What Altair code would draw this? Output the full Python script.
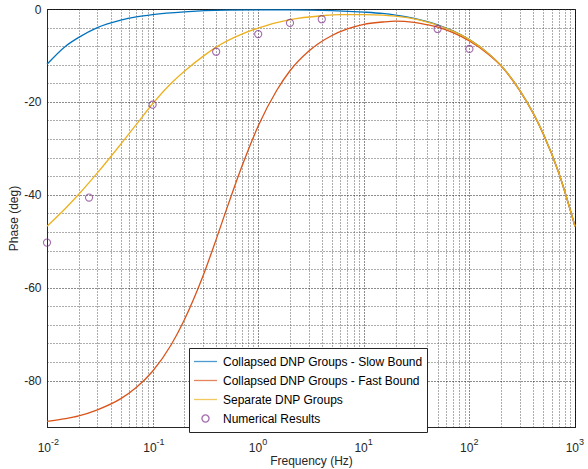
import altair as alt
import pandas as pd

# ---------------- data ----------------
series_names = [
    "Collapsed DNP Groups - Slow Bound",
    "Collapsed DNP Groups - Fast Bound",
    "Separate DNP Groups",
    "Numerical Results",
]
series_colors = ["#0072BD", "#D95319", "#EDB120", "#7E2F8E"]

freq_slow = [0.01, 0.015, 0.02, 0.03, 0.05, 0.07, 0.1, 0.2, 0.5, 1, 2, 5, 10, 15, 20, 30,
             40, 50, 70, 100, 150, 200, 300, 400, 500, 700, 1000]
phase_slow = [-11.9, -8.0, -6.1, -4.0, -2.4, -1.7, -1.2, -0.6, -0.25, -0.2, -0.18, -0.33,
              -0.66, -0.96, -1.3, -2.0, -2.7, -3.4, -4.7, -6.6, -9.5, -12.2, -17.5, -22.3,
              -26.8, -35.2, -46.8]

freq_fast = [0.01, 0.015, 0.02, 0.03, 0.05, 0.07, 0.1, 0.15, 0.2, 0.3, 0.4, 0.5, 0.7, 1,
             1.5, 2, 3, 5, 7, 10, 15, 20, 30, 40, 50, 70, 100, 150, 200, 300, 400, 500,
             700, 1000]
phase_fast = [-88.8, -88.2, -87.6, -86.3, -83.9, -81.5, -78.0, -72.3, -66.9, -57.5, -49.6,
              -43.2, -33.9, -25.2, -17.5, -13.3, -9.1, -5.7, -4.3, -3.3, -2.8, -2.6, -2.9,
              -3.4, -3.9, -5.1, -6.9, -9.7, -12.3, -17.6, -22.4, -26.9, -35.2, -46.8]

freq_sep = [0.01, 0.015, 0.02, 0.03, 0.05, 0.07, 0.1, 0.15, 0.2, 0.3, 0.4, 0.7, 1, 2, 4, 6,
            10, 15, 20, 30, 40, 50, 70, 100, 150, 200, 300, 400, 500, 700, 1000]
phase_sep = [-46.8, -42.9, -39.9, -35.3, -29.1, -24.9, -20.4, -16.0, -13.4, -10.2, -8.2,
             -5.4, -4.1, -2.3, -1.45, -1.2, -1.2, -1.3, -1.55, -2.15, -2.85, -3.5, -4.75,
             -6.6, -9.5, -12.2, -17.5, -22.3, -26.8, -35.2, -46.8]

freq_num = [0.01, 0.025, 0.1, 0.4, 1, 2, 4, 50, 100]
phase_num = [-50.3, -40.6, -20.6, -9.2, -5.4, -3.0, -2.2, -4.3, -8.6]

decades = [0.01, 0.1, 1, 10, 100, 1000]
decade_exponents = ["-2", "-1", "0", "1", "2", "3"]
minor_multipliers = [1, 2, 3, 4, 5, 6, 7, 8, 9]
y_ticks = list(range(-80, 1, 4))
y_labelled = [0, -20, -40, -60, -80]

# ---------------- tables ----------------
lines_df = pd.concat([
    pd.DataFrame({"f": freq_slow, "phase": phase_slow, "series": series_names[0]}),
    pd.DataFrame({"f": freq_fast, "phase": phase_fast, "series": series_names[1]}),
    pd.DataFrame({"f": freq_sep, "phase": phase_sep, "series": series_names[2]}),
], ignore_index=True)
points_df = pd.DataFrame({"f": freq_num, "phase": phase_num, "series": series_names[3]})
dec_df = pd.DataFrame({"f": decades, "base": ["10"] * len(decades), "exp": decade_exponents})

x_grid = [round(d * m, 6) for d in decades[:-1] for m in minor_multipliers] + [1000]

FONT = "Liberation Sans"
AXC = "#262626"
x_scale = alt.Scale(type="log", domain=[0.01, 1000], nice=False)
y_scale = alt.Scale(domain=[-90, 0], nice=False, zero=False)
color_scale = alt.Scale(domain=series_names, range=series_colors)
line_path = "M-1,0H1"
circle_path = "M0.31,0A0.31,0.31 0 1,1 -0.31,0A0.31,0.31 0 1,1 0.31,0Z"
shape_scale = alt.Scale(domain=series_names,
                        range=[line_path, line_path, line_path, circle_path])

major_x = "abs(log(datum.value)/LN10 - round(log(datum.value)/LN10)) < 0.001"
x_axis = alt.Axis(
    values=x_grid, labels=False, ticks=False, grid=True,
    gridColor={"condition": {"test": major_x, "value": "#000000"}, "value": "#4a4a4a"},
    gridDash=[1, 2], gridOpacity=0.9, gridWidth=1,
    domainColor=AXC, title="Frequency (Hz)", titleFont=FONT, titleFontSize=12,
    titleFontWeight="normal", titleColor=AXC, titlePadding=28,
)
labelled_str = "[" + ",".join(str(v) for v in y_labelled) + "]"
y_axis = alt.Axis(
    values=y_ticks,
    labelExpr=f"indexof({labelled_str}, datum.value) >= 0 ? '' + datum.value : ''",
    labelOverlap=False, labelBound=False, labelFlush=False,
    ticks=False, grid=True,
    gridColor={"condition": {"test": "datum.value % 20 == 0", "value": "#000000"}, "value": "#4a4a4a"},
    gridDash=[1, 2], gridOpacity=0.9, gridWidth=1,
    domainColor=AXC, labelFont=FONT, labelFontSize=12, labelColor=AXC,
    labelPadding=6, title="Phase (deg)", titleFont=FONT, titleFontSize=12,
    titleFontWeight="normal", titleColor=AXC, titlePadding=3,
)

leg = dict(
    orient="none", legendX=142, legendY=339, title=None,
    labelFont=FONT, labelFontSize=12, labelColor="#000000", labelLimit=400,
    labelOffset=5, padding=4, rowPadding=0, clipHeight=19, symbolSize=529,
    strokeColor=AXC, fillColor="#ffffff", symbolStrokeWidth=1.3,
)

lines = alt.Chart(lines_df).mark_line(strokeWidth=1.3, interpolate="monotone").encode(
    x=alt.X("f:Q", scale=x_scale, axis=x_axis),
    y=alt.Y("phase:Q", scale=y_scale, axis=y_axis),
    color=alt.Color("series:N", scale=color_scale, legend=alt.Legend(**leg)),
    detail="series:N",
)

points = alt.Chart(points_df).mark_point(filled=False, strokeWidth=1.1, size=529).encode(
    x=alt.X("f:Q", scale=x_scale, axis=x_axis),
    y=alt.Y("phase:Q", scale=y_scale, axis=y_axis),
    color=alt.Color("series:N", scale=color_scale, legend=alt.Legend(**leg)),
    shape=alt.Shape("series:N", scale=shape_scale, legend=alt.Legend(**leg)),
)

base_txt = alt.Chart(dec_df).mark_text(
    align="right", baseline="alphabetic", dx=4, dy=25, font=FONT, fontSize=12, color=AXC
).encode(x=alt.X("f:Q", scale=x_scale, axis=x_axis),
         y=alt.YDatum(-90, axis=y_axis), text="base:N")

exp_txt = alt.Chart(dec_df).mark_text(
    align="left", baseline="alphabetic", dx=4, dy=18, font=FONT, fontSize=9, color=AXC
).encode(x=alt.X("f:Q", scale=x_scale, axis=x_axis),
         y=alt.YDatum(-90, axis=y_axis), text="exp:N")

chart = alt.layer(lines, points, base_txt, exp_txt).properties(
    width=528, height=418,
    padding={"left": 47, "top": 9, "right": 13, "bottom": 42},
    autosize=alt.AutoSizeParams(type="none"),
    background="#ffffff",
).configure_view(stroke=AXC, strokeWidth=1)

chart.save("out.html", embed_options={"renderer": "svg", "actions": False})
